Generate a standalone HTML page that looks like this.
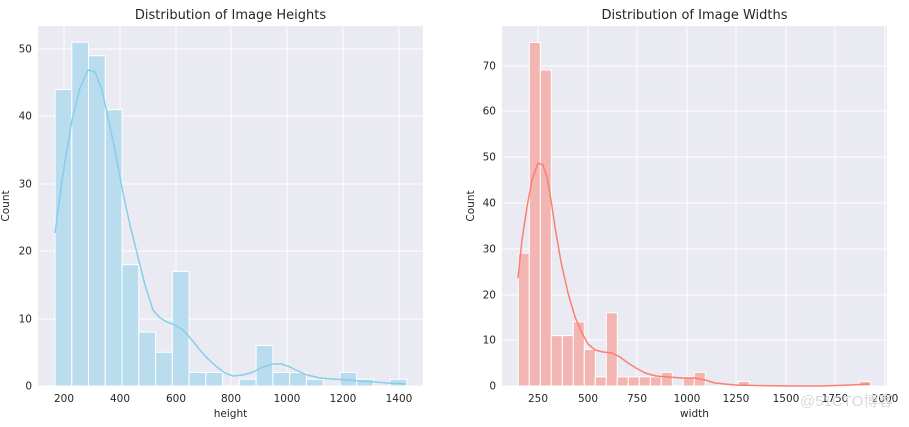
<!DOCTYPE html>
<html><head><meta charset="utf-8"><style>
body{margin:0;background:#fff;width:909px;height:422px;overflow:hidden}
svg text{font-family:"DejaVu Sans","Liberation Sans",sans-serif;fill:#262626}
</style></head><body>
<svg id="s" width="909" height="422" xmlns="http://www.w3.org/2000/svg"></svg>
<script>
const s=document.getElementById('s');let h='';
function panel(o){
 h+=`<rect x="${o.x0}" y="26" width="${o.x1-o.x0}" height="360" fill="#eaeaf2"/>`;
 o.yt.forEach(([v,p])=>{h+=`<line x1="${o.x0}" x2="${o.x1}" y1="${p}" y2="${p}" stroke="#fff" stroke-width="1"/><text x="${o.x0-6}" y="${p+3.5}" font-size="10.5" text-anchor="end">${v}</text>`;});
 o.xt.forEach(([v,p])=>{h+=`<line x1="${p}" x2="${p}" y1="26" y2="386" stroke="#fff" stroke-width="1"/><text x="${p}" y="402" font-size="10.5" text-anchor="middle">${v}</text>`;});
 o.bars.forEach((c,i)=>{if(c>0){let x=o.bx+o.bw*i,y=386-c*o.sc;h+=`<rect x="${x}" y="${y}" width="${o.bw}" height="${c*o.sc}" fill="${o.fc}" stroke="#fff" stroke-width="1"/>`;}});
 let d='M'+o.kde.map(p=>p.join(',')).join(' L');
 h+=`<path d="${d}" fill="none" stroke="${o.lc}" stroke-width="1.5" stroke-linejoin="round"/>`;
 h+=`<text x="${(o.x0+o.x1)/2}" y="19" font-size="13" text-anchor="middle">${o.title}</text>`;
 h+=`<text x="${(o.x0+o.x1)/2}" y="417" font-size="10.5" text-anchor="middle">${o.xl}</text>`;
 h+=`<text transform="translate(${o.yl},206) rotate(-90)" font-size="10.5" text-anchor="middle">Count</text>`;
}
panel({x0:38,x1:423,title:'Distribution of Image Heights',xl:'height',yl:9,
 yt:[[0,386],[10,319],[20,251],[30,184],[40,116],[50,49]],
 xt:[[200,64],[400,120],[600,176],[800,231],[1000,287],[1200,343],[1400,399]],
 bars:[44,51,49,41,18,8,5,17,2,2,0,1,6,2,2,1,0,2,1,0,1],bx:55,bw:16.76,sc:6.74,fc:'#b9dcee',lc:'#87ceeb',
 kde:[[55,233],[62,180],[72,120],[80,88],[88,70],[95,72],[102,90],[107,113],[115,150],[123,193],[130,225],[137,253],[145,285],[153,310],[160,318],[167,322],[175,325],[183,330],[192,340],[200,350],[208,359],[217,367],[225,373],[233,376],[243,375],[253,372],[263,367],[273,364],[282,364],[290,367],[298,371],[307,375],[320,378],[333,379],[347,380],[360,381],[375,382],[387,383],[405,384]]});
panel({x0:502,x1:887,title:'Distribution of Image Widths',xl:'width',yl:474,
 yt:[[0,386],[10,340],[20,295],[30,249],[40,203],[50,157],[60,111],[70,66]],
 xt:[[250,538],[500,588],[750,637],[1000,687],[1250,736],[1500,786],[1750,835],[2000,885]],
 bars:[29,75,69,11,11,14,8,2,16,2,2,2,2,3,0,2,3,0,0,0,1,0,0,0,0,0,0,0,0,0,0,1],bx:518.3,bw:11,sc:4.58,fc:'#f3b5b1',lc:'#fa8072',
 kde:[[518,278],[522,240],[527,207],[532,180],[538,163],[543,165],[547,177],[551,200],[555,227],[561,262],[568,293],[575,317],[582,333],[588,344],[595,350],[603,352],[612,353],[620,357],[628,363],[636,368],[645,373],[656,376],[668,377],[682,378],[695,378],[705,380],[715,383],[735,385],[755,385.5],[790,386],[822,386],[850,385],[870,384]]});
h+=`<text x="800" y="406" font-size="15" style="fill:#d8d8d8;font-family:'Liberation Sans','Noto Sans CJK SC',sans-serif">@51CTO博客</text>`;
s.innerHTML=h;
</script>
</body></html>
